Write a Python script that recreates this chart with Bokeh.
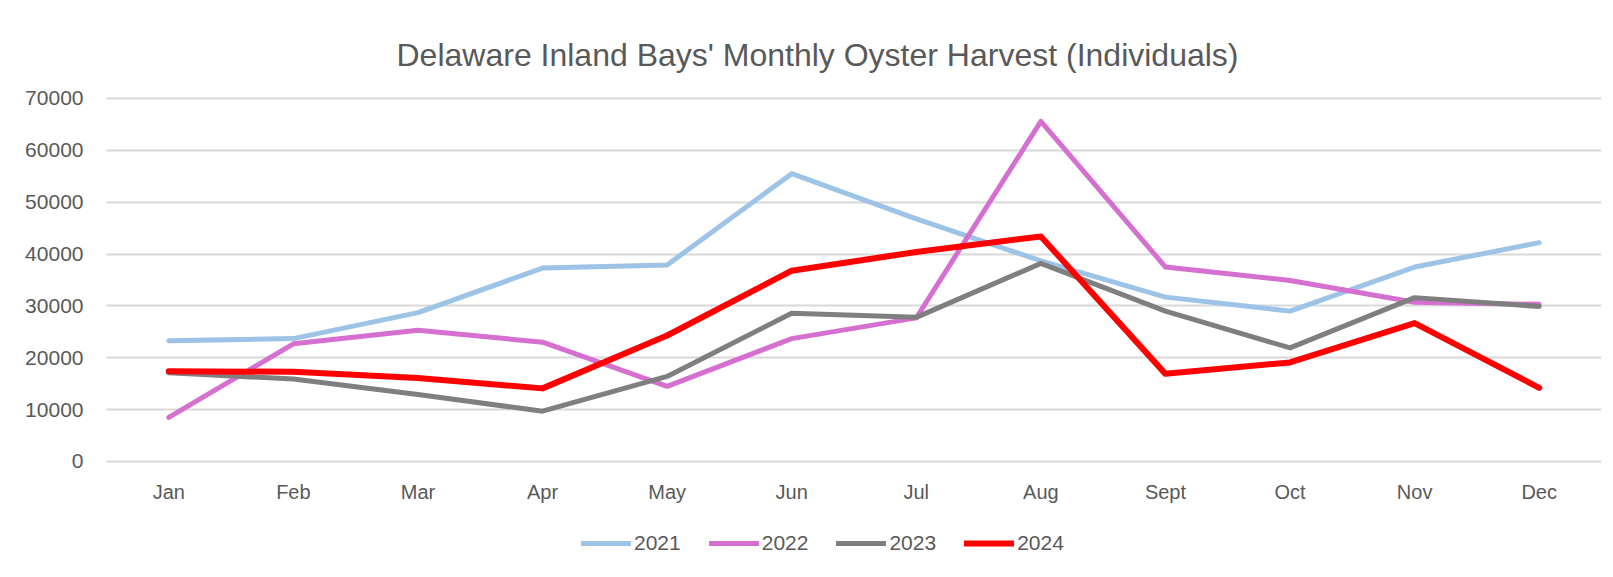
from bokeh.plotting import figure
from bokeh.layouts import column
from bokeh.models import (Range1d, FixedTicker, BasicTickFormatter, Legend, LegendItem, Title)
from bokeh.embed import file_html
from bokeh.resources import INLINE

months = ["Jan", "Feb", "Mar", "Apr", "May", "Jun", "Jul", "Aug", "Sept", "Oct", "Nov", "Dec"]
y2021 = [23300, 23700, 28700, 37300, 37900, 55500, 46800, 38700, 31700, 29000, 37500, 42200]
y2022 = [8500, 22700, 25300, 23000, 14500, 23700, 27700, 65600, 37500, 34900, 30700, 30300]
y2023 = [17100, 15900, 12900, 9700, 16400, 28600, 27800, 38200, 29000, 21900, 31600, 29900]
y2024 = [17400, 17300, 16100, 14100, 24300, 36800, 40400, 43400, 16900, 19100, 26700, 14200]
series_names = ["2021", "2022", "2023", "2024"]
series_colors = ["#9DC3E6", "#D56FD0", "#7F7F7F", "#FF0000"]
series_widths = [5, 5, 5, 6]
y_ticks = [0, 10000, 20000, 30000, 40000, 50000, 60000, 70000]
title_text = "Delaware Inland Bays' Monthly Oyster Harvest (Individuals)"

FONT = "Liberation Sans"
TXT = "#595959"
all_series = [y2021, y2022, y2023, y2024]

p = figure(x_range=months, y_range=Range1d(-1350, 71928),
           width=1605, height=515, output_backend="svg", toolbar_location=None,
           min_border_left=106, min_border_right=4, min_border_top=88, min_border_bottom=47)
p.background_fill_color = "white"
p.border_fill_color = "white"
p.outline_line_color = None

t = Title(text=title_text, align="left", offset=290, standoff=32, text_font=FONT,
          text_font_size="32px", text_font_style="normal", text_color=TXT)
p.add_layout(t, "above")

for vals, col, lw in zip(all_series, series_colors, series_widths):
    p.line(months, vals, line_color=col, line_width=lw, line_join="round", line_cap="round")

p.xgrid.grid_line_color = None
p.ygrid.grid_line_color = "#D9D9D9"
p.ygrid.grid_line_width = 2
p.yaxis.ticker = FixedTicker(ticks=y_ticks)
p.yaxis.formatter = BasicTickFormatter(use_scientific=False)

for ax in (p.xaxis[0], p.yaxis[0]):
    ax.axis_line_color = None
    ax.major_tick_line_color = None
    ax.minor_tick_line_color = None
    ax.major_tick_in = 0
    ax.major_tick_out = 0
    ax.major_label_text_font = FONT
    ax.major_label_text_color = TXT
p.xaxis.major_label_text_font_size = "20px"
p.yaxis.major_label_text_font_size = "21px"
p.xaxis.major_label_standoff = 12
p.yaxis.major_label_standoff = 23

# legend row: a second, axis-less figure whose lines sit outside its visible range
q = figure(x_range=months, y_range=Range1d(-20, -10), width=1605, height=50,
           output_backend="svg", toolbar_location=None,
           min_border_left=106, min_border_right=4, min_border_top=0, min_border_bottom=0)
q.axis.visible = False
q.grid.visible = False
q.outline_line_color = None
q.background_fill_color = "white"
q.border_fill_color = "white"
items = []
for name, vals, col, lw in zip(series_names, all_series, series_colors, series_widths):
    r = q.line(months, vals, line_color=col, line_width=lw, line_join="round", line_cap="round")
    items.append(LegendItem(label=name, renderers=[r]))

legend = Legend(items=items, orientation="horizontal", location=(475, 10),
                padding=0, margin=0, spacing=28, glyph_width=50, glyph_height=20,
                label_standoff=3, label_text_font=FONT, label_text_font_size="21px",
                label_text_color=TXT, border_line_color=None, background_fill_alpha=0)
q.add_layout(legend)

layout = column(p, q, spacing=0)
open("out.html", "w").write(file_html(layout, INLINE))
